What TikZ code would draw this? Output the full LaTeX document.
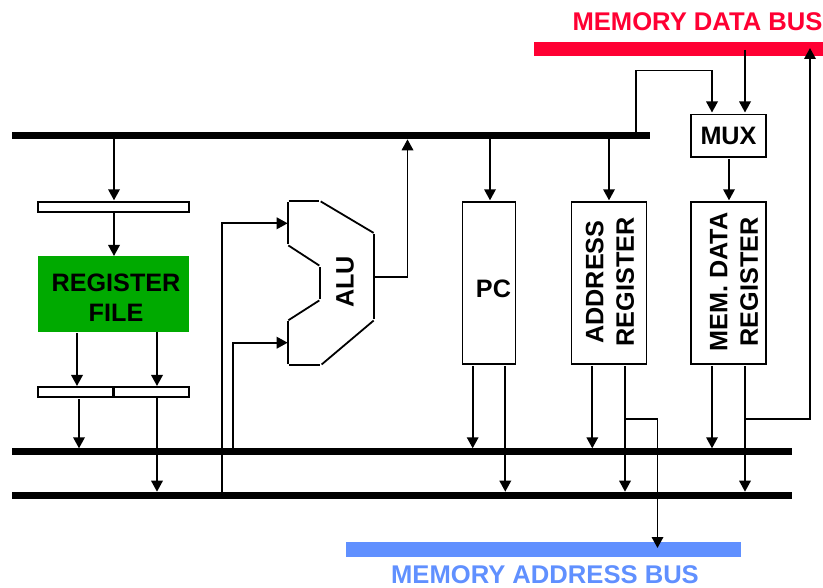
\documentclass[tikz,border=0pt]{standalone}
\usepackage{fontspec}
\setmainfont{Liberation Sans}
\usetikzlibrary{arrows.meta}
\definecolor{busred}{HTML}{FF0033}
\definecolor{busblue}{HTML}{6090FF}
\definecolor{regreen}{HTML}{00AA00}
\tikzset{
  bus/.style={rectangle,fill=black,draw=none,inner sep=0pt,outer sep=0pt,minimum height=7pt},
  membus/.style={rectangle,draw=none,inner sep=0pt,outer sep=0pt,minimum height=14.4pt},
  box/.style={rectangle,draw=black,line width=1.5pt,fill=white,inner sep=0pt,outer sep=0pt,align=center,font=\fontsize{25.2pt}{31pt}\selectfont\bfseries},
  lbl/.style={inner sep=0pt,outer sep=0pt,align=center,font=\fontsize{25.2pt}{31pt}\selectfont\bfseries},
  buslbl/.style={lbl,font=\fontsize{25.6pt}{31pt}\selectfont\bfseries},
  wire/.style={line width=1.8pt,draw=black},
  arr/.style={wire,-{Triangle[length=11pt,width=11.5pt]}},
  aluedge/.style={line width=1.8pt,draw=black,shorten <=0.8pt,shorten >=0.8pt}
}
\begin{document}
\begin{tikzpicture}[x=1pt,y=-1pt]
\useasboundingbox (0,0) rectangle (823,588);
% buses
\node[bus,minimum width=638pt] (topbus) at (331,135.8) {};
\node[bus,minimum width=780pt] (busa) at (402,451.8) {};
\node[bus,minimum width=780pt] (busb) at (402,495.2) {};
\node[membus,fill=busred,minimum width=289pt] (databus) at (678.5,48.9) {};
\node[membus,fill=busblue,minimum width=395pt] (addrbus) at (543.5,549.5) {};
\node[buslbl,text=busred] (datalbl) at (697.5,22) {MEMORY DATA BUS};
\node[buslbl,text=busblue] (addrlbl) at (545,575) {MEMORY ADDRESS BUS};
% boxes
\node[box,minimum width=151pt,minimum height=10pt] (topbar) at (113.5,207) {};
\node[rectangle,fill=regreen,inner sep=0pt,outer sep=0pt,minimum width=151pt,minimum height=76pt] (regfile) at (113.5,294) {};
\node[lbl,font=\fontsize{25.2pt}{29.5pt}\selectfont\bfseries] (regtext) at (116,297.5) {REGISTER\\FILE};
\node[box,minimum width=75pt,minimum height=10pt] (barl) at (75.5,392) {};
\node[box,minimum width=75pt,minimum height=10pt] (barr) at (151.5,392) {};
\node[box,minimum width=53.4pt,minimum height=162pt] (pc) at (489,283) {};
\node[lbl] (pctext) at (493.5,289) {PC};
\node[box,minimum width=75pt,minimum height=162pt] (areg) at (608.8,283) {};
\node[box,minimum width=75pt,minimum height=162pt] (mreg) at (728.5,283) {};
\node[box,minimum width=75pt,minimum height=42.4pt] (mux) at (728.5,135.9) {MUX};
\node[lbl,rotate=90,font=\fontsize{25.2pt}{30.5pt}\selectfont\bfseries] (atext) at (610,282) {ADDRESS\\REGISTER};
\node[lbl,rotate=90,font=\fontsize{25.2pt}{30.5pt}\selectfont\bfseries] (mtext) at (734,282) {MEM. DATA\\REGISTER};
% ALU
\coordinate (u1) at (287.7,201);
\coordinate (u2) at (320,201);
\coordinate (u3) at (374.3,233.3);
\coordinate (u4) at (374.3,320);
\coordinate (u5) at (321,365);
\coordinate (u6) at (287.7,365);
\coordinate (u7) at (287.7,320.7);
\coordinate (u8) at (320,300);
\coordinate (u9) at (320,266);
\coordinate (u10) at (287.7,245);
\draw[aluedge] (u1) -- (u2);
\draw[aluedge] (u2) -- (u3);
\draw[aluedge] (u3) -- (u4);
\draw[aluedge] (u4) -- (u5);
\draw[aluedge] (u5) -- (u6);
\draw[aluedge] (u6) -- (u7);
\draw[aluedge] (u7) -- (u8);
\draw[aluedge] (u8) -- (u9);
\draw[aluedge] (u9) -- (u10);
\draw[aluedge] (u10) -- (u1);
\node[lbl,rotate=90] (alutext) at (345,282) {ALU};
% column and row guides
\coordinate (c77) at (77,0);
\coordinate (c79) at (79,0);
\coordinate (c114) at (114,0);
\coordinate (c157) at (157,0);
\coordinate (c222) at (222,0);
\coordinate (c233) at (233,0);
\coordinate (c407) at (407.5,0);
\coordinate (c473) at (472.7,0);
\coordinate (c490) at (490,0);
\coordinate (c505) at (505.3,0);
\coordinate (c592) at (592.3,0);
\coordinate (c609) at (609,0);
\coordinate (c625) at (625,0);
\coordinate (c636) at (636,0);
\coordinate (c657) at (657.5,0);
\coordinate (c712) at (712,0);
\coordinate (c729) at (729,0);
\coordinate (c745) at (745,0);
\coordinate (c810) at (810,0);
\coordinate (r70) at (0,70.5);
\coordinate (r223) at (0,223.3);
\coordinate (r277) at (0,277.3);
\coordinate (r343) at (0,342.7);
\coordinate (r419) at (0,419);
\coordinate (r366) at (0,366);
\coordinate (r548) at (0,548);
\coordinate (r50) at (0,50);
\coordinate (r48) at (0,48);
\coordinate (r112) at (0,112.5);
\coordinate (r159) at (0,159);
\coordinate (r200) at (0,200.3);
\coordinate (r334) at (0,333);
\coordinate (r386) at (0,386);
\coordinate (r399) at (0,399.5);
% register file side
\draw[arr] (c114 |- topbus.south) -- (c114 |- r200);
\draw[arr] (c114 |- topbar.south) -- (c114 |- regfile.north);
\draw[arr] (c77 |- r334) -- (c77 |- r386);
\draw[arr] (c157 |- regfile.south) -- (c157 |- r386);
\draw[arr] (c79 |- r399) -- (c79 |- busa.north);
\draw[arr] (c157 |- barr.south) -- (c157 |- busb.north);
% ALU connections
\draw[arr] (c222 |- busb.north) -- (c222 |- r223) -- (u1 |- r223);
\draw[arr] (c233 |- busa.north) -- (c233 |- r343) -- (u1 |- r343);
\draw[arr] (u3 |- r277) -- (c407 |- r277) -- (c407 |- topbus.south);
% top bus
\draw[arr] (c490 |- topbus.south) -- (c490 |- r200);
\draw[arr] (c609 |- topbus.south) -- (c609 |- r200);
\draw[wire] (c636 |- topbus.north) -- (c636 |- r70) -- (c712 |- r70);
\draw[arr] (c712 |- r70) -- (c712 |- r112);
\draw[arr] (c745 |- r50) -- (c745 |- r112);
\draw[arr] (c729 |- r159) -- (c729 |- r200);
% outputs to lower buses
\draw[arr] (c473 |- r366) -- (c473 |- busa.north);
\draw[arr] (c505 |- r366) -- (c505 |- busb.north);
\draw[arr] (c592 |- r366) -- (c592 |- busa.north);
\draw[arr] (c625 |- r366) -- (c625 |- busb.north);
\draw[arr] (c712 |- r366) -- (c712 |- busa.north);
\draw[arr] (c745 |- r366) -- (c745 |- busb.north);
% memory bus links
\draw[arr] (c625 |- r419) -- (c657 |- r419) -- (c657 |- r548);
\draw[arr] (c745 |- r419) -- (c810 |- r419) -- (c810 |- r48);
\end{tikzpicture}
\end{document}
